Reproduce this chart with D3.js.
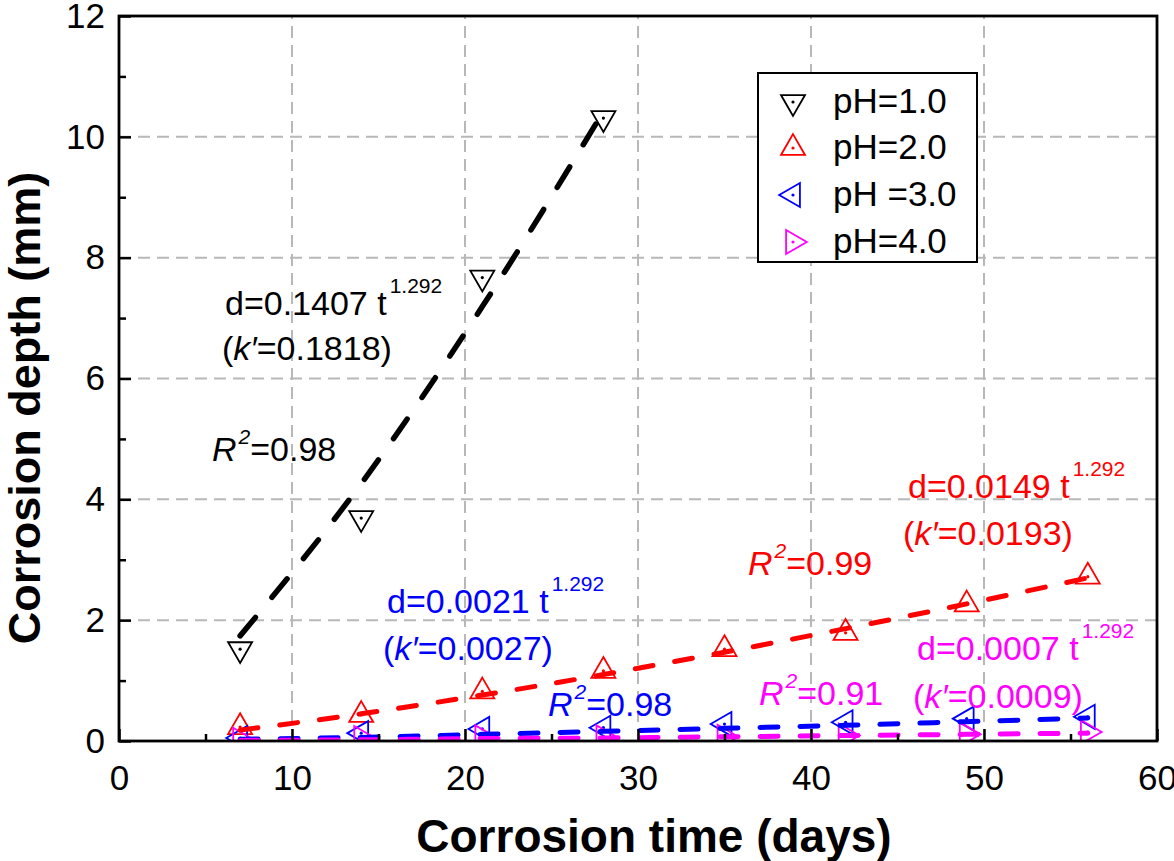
<!DOCTYPE html>
<html><head><meta charset="utf-8">
<script src="https://cdn.jsdelivr.net/npm/d3@7"></script>
<style>
body{margin:0;background:#fff}
text{font-family:"Liberation Sans",Arial,Helvetica,sans-serif}
</style></head>
<body><svg id="chart" width="1174" height="861"></svg>
<script>
// ---------- data ----------
const timesAll = [7, 14, 21, 28, 35, 42, 49, 56];
const timesPh1 = [7, 14, 21, 28];
const depthPh1 = [1.52, 3.69, 7.67, 10.31];
const depthPh2 = [0.23, 0.43, 0.82, 1.16, 1.52, 1.79, 2.26, 2.72];
const depthPh3 = [0.05, 0.13, 0.20, 0.22, 0.28, 0.31, 0.37, 0.40];
const depthPh4 = [0.02, 0.05, 0.06, 0.06, 0.07, 0.09, 0.11, 0.15];
// fitted (dashed) curves at the test times
const fitPh1 = [1.74, 4.26, 7.19, 10.42];
const fitPh2 = [0.18, 0.45, 0.76, 1.10, 1.47, 1.86, 2.27, 2.70];
const fitPh3 = [0.03, 0.06, 0.11, 0.16, 0.21, 0.26, 0.32, 0.38];
const fitPh4 = [0.01, 0.02, 0.04, 0.05, 0.07, 0.09, 0.11, 0.13];
const seriesNames = ["pH=1.0", "pH=2.0", "pH =3.0", "pH=4.0"];
const seriesColors = ["#000000", "#ff0000", "#0000ff", "#ff00ff"];
const seriesShapes = ["down", "up", "left", "right"];
const fitCoef = ["0.1407", "0.0149", "0.0021", "0.0007"];
const fitKPrime = ["0.1818", "0.0193", "0.0027", "0.0009"];
const fitR2 = ["0.98", "0.99", "0.98", "0.91"];
const fitExponent = "1.292";
const xTicks = [0, 10, 20, 30, 40, 50, 60];
const xMinor = [5, 15, 25, 35, 45, 55];
const yTicks = [0, 2, 4, 6, 8, 10, 12];
const yMinor = [1, 3, 5, 7, 9, 11];
const xTitle = "Corrosion time (days)";
const yTitle = "Corrosion depth (mm)";

// ---------- layout ----------
const W = 1174, H = 861;
const L = 119, R = 1157, T = 16, B = 741;
const svg = d3.select("#chart");
const x = d3.scaleLinear().domain([0, 60]).range([L, R]);
const y = d3.scaleLinear().domain([0, 12]).range([B, T]);

const series = [
  {t: timesPh1, d: depthPh1, f: fitPh1},
  {t: timesAll, d: depthPh2, f: fitPh2},
  {t: timesAll, d: depthPh3, f: fitPh3},
  {t: timesAll, d: depthPh4, f: fitPh4}
];

// grid
const grid = svg.append("g").attr("stroke", "#b8b8b8").attr("stroke-width", 2).attr("stroke-dasharray", "12,7");
xTicks.filter(v => v > 0 && v < 60).forEach(v => grid.append("line").attr("x1", x(v)).attr("x2", x(v)).attr("y1", y(0)).attr("y2", y(12)));
yTicks.filter(v => v > 0 && v < 12).forEach(v => grid.append("line").attr("x1", x(0)).attr("x2", x(60)).attr("y1", y(v)).attr("y2", y(v)));

// clip
svg.append("clipPath").attr("id", "plotclip").append("rect").attr("x", L).attr("y", T).attr("width", R - L).attr("height", B - T);

// marker shape
const side = 24, Rc = side / Math.sqrt(3), rc = Rc / 2;
function triPath(shape) {
  let pts;
  if (shape === "up") pts = [[0, -Rc], [side / 2, rc], [-side / 2, rc]];
  else if (shape === "down") pts = [[0, Rc], [side / 2, -rc], [-side / 2, -rc]];
  else if (shape === "left") pts = [[-Rc, 0], [rc, -side / 2], [rc, side / 2]];
  else pts = [[Rc, 0], [-rc, -side / 2], [-rc, side / 2]];
  return "M" + pts.map(p => p.join(",")).join("L") + "Z";
}
function drawMarker(g, cx, cy, i) {
  const m = g.append("g").attr("transform", `translate(${cx},${cy})`);
  m.append("path").attr("d", triPath(seriesShapes[i])).attr("fill", "none")
    .attr("stroke", seriesColors[i]).attr("stroke-width", 1.8).attr("stroke-linejoin", "miter");
  m.append("circle").attr("r", 1.6).attr("fill", seriesColors[i]);
}

const plot = svg.append("g").attr("clip-path", "url(#plotclip)");
const dashes = ["24,26", "18,22", "18,22", "18,22"];
const widths = [5.5, 5, 5, 5];
// markers
series.forEach((s, i) => {
  const g = plot.append("g");
  s.t.forEach((t, j) => drawMarker(g, x(t), y(s.d[j]), i));
});
// fit lines
const line = d3.line().x(d => x(d[0])).y(d => y(d[1])).curve(d3.curveMonotoneX);
series.forEach((s, i) => {
  plot.append("path").attr("d", line(s.t.map((t, j) => [t, s.f[j]])))
    .attr("fill", "none").attr("stroke", seriesColors[i]).attr("stroke-width", widths[i])
    .attr("stroke-dasharray", dashes[i]).attr("stroke-linecap", "round");
});

// axes
const axB = svg.append("g").attr("transform", `translate(0,${B})`)
  .call(d3.axisBottom(x).tickValues(xTicks).tickSize(-12).tickPadding(24).tickFormat(d3.format("d")));
svg.append("g").attr("transform", `translate(0,${B})`)
  .call(d3.axisBottom(x).tickValues(xMinor).tickSize(-7).tickFormat(""));
const axL = svg.append("g").attr("transform", `translate(${L},0)`)
  .call(d3.axisLeft(y).tickValues(yTicks).tickSize(-12).tickPadding(14).tickFormat(d3.format("d")));
svg.append("g").attr("transform", `translate(${L},0)`)
  .call(d3.axisLeft(y).tickValues(yMinor).tickSize(-7).tickFormat(""));
svg.selectAll(".domain").remove();
svg.selectAll(".tick line").attr("stroke", "#000").attr("stroke-width", 2.5);
svg.selectAll(".tick text").attr("font-size", 35).attr("fill", "#000")
  .attr("font-family", "'Liberation Sans',Arial,sans-serif");
// frame
svg.append("rect").attr("x", L).attr("y", T).attr("width", R - L).attr("height", B - T)
  .attr("fill", "none").attr("stroke", "#000").attr("stroke-width", 2.8);

// titles
svg.append("text").attr("x", 654).attr("y", 852).attr("text-anchor", "middle")
  .attr("font-size", 46).attr("font-weight", "bold").text(xTitle);
svg.append("text").attr("transform", "translate(40,408) rotate(-90)").attr("text-anchor", "middle")
  .attr("font-size", 45).attr("font-weight", "bold").text(yTitle);

// legend
const lg = svg.append("g");
lg.append("rect").attr("x", 758).attr("y", 73).attr("width", 219).attr("height", 189)
  .attr("fill", "#fff").attr("stroke", "#000").attr("stroke-width", 2);
const legendY = [102, 148, 195, 242];
seriesNames.forEach((n, i) => {
  drawMarker(lg, 793, legendY[i], i);
  lg.append("text").attr("x", 833).attr("y", legendY[i] + 11).attr("font-size", 35).attr("fill", "#000").text(n);
});

// annotations (pixel anchors: equation, k', R^2)
const annPos = [
  [[225, 315], [222, 360], [212, 461]],
  [[908, 498], [903, 545], [748, 575]],
  [[387, 613], [383, 660], [548, 716]],
  [[917, 660], [913, 708], [759, 705]]
];
const ann = svg.append("g");
seriesColors.forEach((c, i) => {
  const p = annPos[i];
  const e = ann.append("text").attr("x", p[0][0]).attr("y", p[0][1]).attr("fill", c).attr("font-size", 34);
  e.append("tspan").text(`d=${fitCoef[i]} t`);
  e.append("tspan").attr("dx", 3).attr("dy", -22).attr("font-size", 21).text(fitExponent);
  const k = ann.append("text").attr("x", p[1][0]).attr("y", p[1][1]).attr("fill", c).attr("font-size", 34);
  k.append("tspan").text("(");
  k.append("tspan").attr("font-style", "italic").text("k\u2032");
  k.append("tspan").text(`=${fitKPrime[i]})`);
  const r = ann.append("text").attr("x", p[2][0]).attr("y", p[2][1]).attr("fill", c).attr("font-size", 34);
  r.append("tspan").attr("font-style", "italic").text("R");
  r.append("tspan").attr("font-style", "italic").attr("font-size", 21).attr("dx", 2).attr("dy", -17).text("2");
  r.append("tspan").attr("dy", 17).text(`=${fitR2[i]}`);
});
</script></body></html>
